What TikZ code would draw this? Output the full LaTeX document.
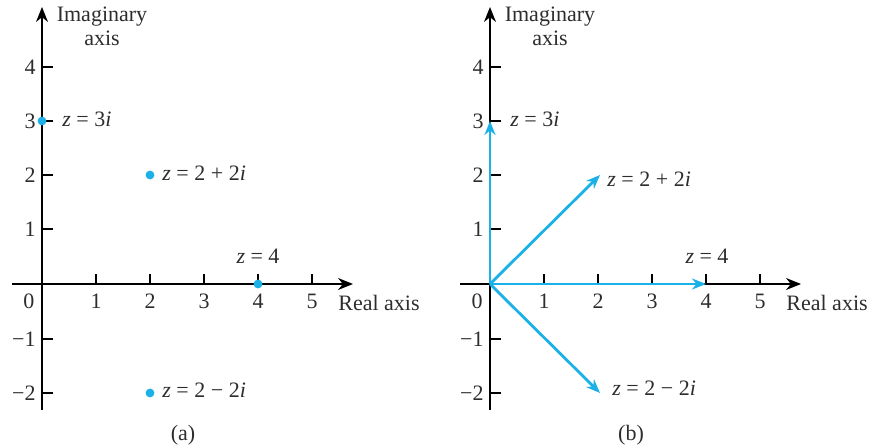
\documentclass[tikz,border=0pt]{standalone}
\usepackage{fontspec}
\setmainfont{Liberation Serif}
\usetikzlibrary{arrows.meta}
\definecolor{zblue}{RGB}{27,177,231}
\definecolor{txt}{RGB}{45,45,45}
\begin{document}
\begin{tikzpicture}[x=0.5pt,y=-0.5pt,
  axis/.style={line width=0.8pt, -{Stealth[length=7.5pt,width=6pt]}},
  tickline/.style={line width=0.8pt},
  lbl/.style={font=\fontsize{11}{12}\selectfont, text=txt, inner sep=0pt},
  dot/.style={circle, fill=zblue, minimum size=4.4pt, inner sep=0pt},
  vec/.style={zblue, line width=1.4pt, -{Stealth[length=7pt,width=5.5pt]}},
]
\useasboundingbox (0,0) rectangle (878,448);
\foreach \dx/\p in {0/a,224/b}{
\begin{scope}[xshift=\dx pt]
  \coordinate (O\p) at (42,284);
  \coordinate (yb\p) at (42,410);
  \coordinate (yt\p) at (42,7);
  \coordinate (xl\p) at (12,284);
  \coordinate (xr\p) at (353,284);
  \draw[axis] (yb\p) -- (yt\p);
  \draw[axis] (xl\p) -- (xr\p);
  \foreach \v/\yy in {4/67,3/121,2/175,1/229,−1/339,−2/393}{
    \draw[tickline] (42,\yy) -- (53,\yy);
    \node[lbl,anchor=east] (ty\p\yy) at (36,\yy) {\v};
  }
  \foreach \v/\xx in {1/96,2/150,3/204,4/258,5/312}{
    \draw[tickline] (\xx,284) -- (\xx,274);
    \node[lbl,anchor=base] (tx\p\v) at (\xx,309) {\v};
  }
  \node[lbl,anchor=base] (zero\p) at (29,309) {0};
  \node[lbl,align=center,anchor=north] (imag\p) at (102,7) {Imaginary\\axis};
  \node[lbl,anchor=base west] (real\p) at (338,311) {Real axis};
  \node[lbl,anchor=base] (cap\p) at (183,441) {(\p)};
\end{scope}
}
% panel (a): points
\node[dot] (pa1) at (42,121) {};
\node[dot] (pa2) at (150,175) {};
\node[dot] (pa3) at (258,284) {};
\node[dot] (pa4) at (150,393) {};
\node[lbl,anchor=base west] (la1) at (62,127) {{\itshape z} = 3{\itshape i}};
\node[lbl,anchor=base west] (la2) at (162,181) {{\itshape z} = 2 + 2{\itshape i}};
\node[lbl,anchor=base] (la3) at (258,264) {{\itshape z} = 4};
\node[lbl,anchor=base west] (la4) at (162,398) {{\itshape z} = 2 − 2{\itshape i}};
% panel (b): vectors
\coordinate (pb1) at (490,121);
\coordinate (pb2) at (600,175);
\coordinate (pb3) at (706,284);
\coordinate (pb4) at (600,393);
\draw[vec] (Ob) -- (pb1);
\draw[vec] (Ob) -- (pb2);
\draw[vec] (Ob) -- (pb3);
\draw[vec] (Ob) -- (pb4);
\node[lbl,anchor=base west] (lb1) at (510,127) {{\itshape z} = 3{\itshape i}};
\node[lbl,anchor=base west] (lb2) at (607,187) {{\itshape z} = 2 + 2{\itshape i}};
\node[lbl,anchor=base] (lb3) at (707,264) {{\itshape z} = 4};
\node[lbl,anchor=base west] (lb4) at (612,396) {{\itshape z} = 2 − 2{\itshape i}};
\end{tikzpicture}
\end{document}
